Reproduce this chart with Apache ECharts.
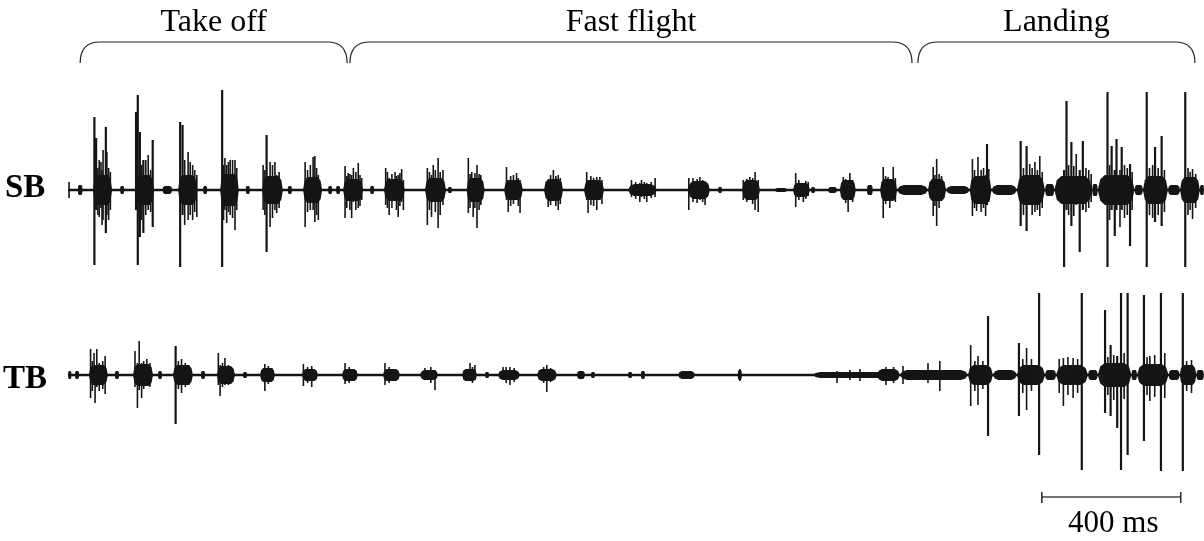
<!DOCTYPE html>
<html><head><meta charset="utf-8">
<script src="https://cdn.jsdelivr.net/npm/echarts@6/dist/echarts.min.js"></script>
<style>html,body{margin:0;padding:0;background:#fff}#c{width:1204px;height:541px}</style>
</head><body><div id="c"></div>
<script>
// time axis in ms
const timeMax = 3272;
const traceSpan = [0, 3268];

// phases
const phaseNames = ['Take off', 'Fast flight', 'Landing'];
const phaseStart = [35, 812, 2448];
const phaseEnd = [804, 2431, 3246];

// channel names
const channelNames = ['SB', 'TB'];

// scale bar (ms)
const scaleBar = [2805, 3205];
const scaleLabel = '400 ms';

// SB spikes: [time ms, peak up, peak down] (arbitrary units)
const sbSpikes = [
 [3,8,-8],
 [76,73,-75],[81,52,-20],[86,22,-25],[90,30,-27],[95,28,-18],[98,20,-35],[101,40,-30],[109,63,-43],[112,38,-25],[117,22,-30],[122,18,-20],
 [196,78,-20],[201,95,-75],[207,58,-47],[212,25,-30],[217,30,-43],[224,30,-25],[231,35,-20],[238,20,-22],[244,50,-37],
 [323,68,-77],[330,65,-25],[336,30,-35],[346,38,-30],[352,28,-25],[359,25,-30],[365,20,-22],[371,15,-27],
 [444,100,-77],[448,25,-30],[452,32,-20],[457,25,-33],[462,28,-22],[467,30,-25],[474,30,-28],[481,30,-40],[486,22,-20],
 [562,25,-20],[567,20,-25],[572,55,-62],[582,28,-37],[589,25,-28],[596,28,-20],[601,15,-23],[608,18,-18],
 [683,28,-37],[690,20,-22],[698,25,-20],[706,33,-20],[711,34,-32],[716,22,-25],[721,15,-30],
 [798,24,-28],[803,14,-18],[807,17,-10],[812,16,-20],[817,15,-28],[822,22,-12],[829,18,-20],[836,27,-18],[841,15,-16],[846,12,-10],
 [915,22,-15],[920,18,-18],[925,12,-25],[933,16,-18],[942,18,-10],[946,14,-20],[951,15,-27],[956,17,-16],[961,21,-12],[966,10,-20],
 [1035,22,-35],[1041,18,-20],[1047,15,-27],[1052,25,-12],[1058,20,-22],[1066,32,-38],[1072,18,-25],[1080,20,-15],
 [1153,32,-23],[1158,16,-18],[1163,18,-12],[1167,12,-27],[1172,17,-18],[1178,25,-38],[1184,16,-20],[1189,15,-15],
 [1263,23,-10],[1268,10,-22],[1275,14,-16],[1283,15,-14],[1292,17,-10],[1297,12,-16],[1302,10,-23],
 [1383,10,-17],[1390,15,-15],[1398,20,-10],[1405,14,-16],[1412,15,-20],[1418,12,-14],
 [1494,18,-10],[1498,10,-23],[1506,14,-15],[1514,12,-16],[1523,13,-20],[1532,13,-10],[1538,10,-14],
 [1623,10,-7],[1635,8,-9],[1647,7,-12],[1652,10,-7],[1660,8,-9],[1667,7,-12],[1680,8,-8],[1691,12,-7],
 [1788,12,-20],[1800,12,-12],[1812,11,-13],[1820,13,-10],[1828,10,-12],[1835,8,-15],
 [1945,10,-10],[1955,11,-12],[1964,13,-8],[1972,12,-14],[1979,18,-20],[1988,10,-22],
 [2096,17,-17],[2105,10,-10],[2118,6,-12],[2125,9,-9],[2132,8,-6],
 [2233,13,-8],[2240,11,-13],[2247,8,-22],[2252,17,-10],[2260,10,-12],
 [2348,23,-28],[2355,14,-14],[2362,13,-10],[2367,10,-18],[2377,23,-10],[2383,12,-12],
 [2492,23,-26],[2497,15,-16],[2502,31,-36],[2509,16,-18],[2516,14,-10],
 [2605,31,-26],[2611,20,-18],[2617,12,-21],[2621,33,-12],[2630,20,-22],[2637,22,-18],[2643,15,-26],[2647,46,-15],[2652,21,-12],
 [2744,49,-36],[2752,22,-25],[2761,44,-41],[2770,26,-15],[2777,22,-25],[2785,28,-22],[2792,20,-20],[2799,34,-26],[2806,18,-18],
 [2869,20,-77],[2876,89,-20],[2882,25,-25],[2890,48,-36],[2897,24,-26],[2904,36,-15],[2914,20,-62],[2923,49,-20],[2932,22,-22],[2940,20,-18],[2947,16,-12],
 [2994,98,-77],[3000,25,-30],[3006,44,-20],[3015,20,-46],[3020,51,-20],[3030,20,-37],[3035,43,-20],[3043,25,-28],[3051,22,-25],[3059,26,-56],[3065,18,-20],
 [3107,98,-77],[3115,22,-25],[3124,25,-28],[3131,43,-32],[3140,22,-25],[3150,54,-36],[3158,20,-22],
 [3218,98,-77],[3226,22,-25],[3232,18,-20],[3239,21,-29],[3248,16,-18]
];
// SB burst envelopes: [start ms, end ms, amplitude]
const sbCores = [
 [72,127,15],[193,248,15],[317,372,15],[438,492,16],[559,619,14],[677,732,13],
 [792,850,11],[910,970,11],[1028,1089,12],[1148,1200,12],[1256,1310,10],[1371,1426,11],[1486,1544,10],[1613,1696,6],
 [1786,1849,9],[1942,1993,10],[2088,2137,7],[2223,2269,10],[2339,2388,11],
 [2477,2529,11],[2597,2660,14],[2733,2814,15],[2841,2950,14],[2966,3072,15],[3096,3168,14],[3203,3260,13],
 [28,42,5],[150,162,4],[272,300,4],[389,401,4],[512,524,4],[633,645,4],[749,761,4],[772,784,4],
 [870,882,4],[1094,1106,3],[1872,1884,3],[2036,2071,2],[2140,2152,3],[2189,2215,3],[2301,2318,5],
 [2388,2477,5],[2529,2597,4],[2660,2733,5],[2814,2841,6],[2950,2966,6],[3072,3096,5],[3168,3203,5],[3260,3272,5]
];

// TB spikes
const tbSpikes = [
 [65,26,-23],[70,14,-16],[75,22,-10],[78,10,-28],[83,26,-12],[90,12,-16],[100,14,-14],[107,19,-19],
 [193,24,-12],[200,12,-33],[205,34,-15],[212,12,-23],[218,14,-14],[227,16,-10],[236,12,-12],
 [310,29,-49],[318,14,-14],[327,16,-18],[338,12,-12],[348,10,-10],
 [433,22,-10],[438,10,-21],[445,12,-12],[452,17,-10],[462,10,-10],
 [567,11,-16],[577,9,-9],[587,7,-6],
 [678,11,-11],[690,8,-8],[702,9,-12],
 [798,12,-9],[810,8,-8],
 [913,12,-10],[925,8,-8],
 [1028,7,-5],[1045,8,-8],[1057,5,-15],
 [1158,12,-6],[1165,8,-8],[1172,10,-5],
 [1253,8,-5],[1262,8,-8],[1273,8,-10],[1285,7,-7],
 [1359,5,-5],[1370,8,-8],[1379,10,-17],[1390,7,-7],
 [1935,6,-6],
 [2215,4,-8],[2252,5,-5],[2281,6,-6],[2356,8,-10],[2378,8,-8],
 [2405,9,-9],[2477,12,-8],[2511,14,-16],
 [2600,30,-31],[2612,14,-16],[2621,19,-30],[2635,14,-14],[2650,59,-61],
 [2739,32,-41],[2750,16,-18],[2761,27,-35],[2775,16,-16],[2797,82,-80],
 [2855,16,-18],[2867,17,-31],[2880,18,-20],[2895,17,-23],[2908,16,-18],[2920,82,-95],
 [2987,65,-38],[2995,18,-20],[3003,30,-41],[3012,20,-25],[3022,19,-53],[3033,82,-95],[3042,22,-24],[3052,82,-80],
 [3099,80,-66],[3108,18,-20],[3116,19,-26],[3130,20,-22],[3148,82,-96],[3159,22,-23],
 [3211,82,-96],[3222,14,-16],[3236,15,-18]
];
// TB burst envelopes
const tbCores = [
 [60,115,10],[187,245,11],[302,360,10],[429,481,9],[553,596,7],[674,720,6],[789,835,6],[907,956,6],[1014,1066,5],[1135,1178,6],[1238,1302,5],[1351,1408,6],
 [0,10,4],[20,32,4],[135,147,4],[259,271,4],[383,395,4],[504,516,3],[1201,1213,3],[1466,1489,4],[1506,1518,3],[1613,1625,3],[1650,1662,4],[1757,1806,4],[1929,1941,5],
 [2146,2396,3],[2330,2396,6],[2396,2592,5],[2592,2664,10],[2664,2733,5],[2733,2814,10],[2814,2846,5],[2846,2938,10],[2938,2966,5],[2966,3063,12],[3063,3079,5],[3079,3170,11],[3170,3202,5],[3202,3250,10],[3250,3272,5]
];

const INK = '#151515';
const FONT = '"Liberation Serif", "Times New Roman", serif';

function spikeItem(params, api) {
  const t = api.value(0);
  const p1 = api.coord([t, api.value(1)]);
  const p2 = api.coord([t, api.value(2)]);
  const big = Math.abs(api.value(1)) > 40 || Math.abs(api.value(2)) > 40;
  return { type: 'line', shape: { x1: p1[0], y1: p1[1], x2: p2[0], y2: p2[1] },
    style: { stroke: INK, lineWidth: big ? 2.2 : 1.6 } };
}
function coreItem(params, api) {
  const a = api.value(2);
  const l = api.coord([api.value(0), 0]);
  const r = api.coord([api.value(1), 0]);
  const top = api.coord([api.value(0), a])[1];
  const bot = api.coord([api.value(0), -a])[1];
  const yc = l[1];
  const w = r[0] - l[0];
  const tp = Math.min(w * 0.22, 7);
  const h = (bot - top) / 2;
  return { type: 'polygon', shape: { smooth: 0, points: [
    [l[0], yc], [l[0] + tp * 0.35, yc - h * 0.7], [l[0] + tp, top], [r[0] - tp, top], [r[0] - tp * 0.35, yc - h * 0.7],
    [r[0], yc], [r[0] - tp * 0.35, yc + h * 0.7], [r[0] - tp, bot], [l[0] + tp, bot], [l[0] + tp * 0.35, yc + h * 0.7]] },
    style: { fill: INK } };
}
function bracketItem(params, api) {
  const x0 = api.coord([api.value(0), 0])[0];
  const x1 = api.coord([api.value(1), 0])[0];
  const yT = 42, yB = 63, r = 20;
  const path = `M${x0} ${yB} C${x0} ${yT + 8} ${x0 + 6} ${yT} ${x0 + r} ${yT} L${x1 - r} ${yT} C${x1 - 6} ${yT} ${x1} ${yT + 8} ${x1} ${yB}`;
  return { type: 'group', children: [
    { type: 'path', shape: { pathData: path }, style: { stroke: '#222', lineWidth: 1.2, fill: 'none' } },
    { type: 'text', style: { text: phaseNames[params.dataIndex], x: (x0 + x1) / 2, y: 23,
      align: 'center', verticalAlign: 'middle', font: '32px ' + FONT, fill: '#000' } }
  ] };
}
function scaleItem(params, api) {
  const x0 = api.coord([api.value(0), 0])[0];
  const x1 = api.coord([api.value(1), 0])[0];
  const y = 497;
  return { type: 'group', children: [
    { type: 'line', shape: { x1: x0, y1: y, x2: x1, y2: y }, style: { stroke: '#444', lineWidth: 1.5 } },
    { type: 'line', shape: { x1: x0, y1: y - 5, x2: x0, y2: y + 6 }, style: { stroke: '#222', lineWidth: 1.5 } },
    { type: 'line', shape: { x1: x1, y1: y - 5, x2: x1, y2: y + 6 }, style: { stroke: '#222', lineWidth: 1.5 } },
    { type: 'text', style: { text: scaleLabel, x: (x0 + x1) / 2 + 2, y: 524, align: 'center', verticalAlign: 'middle',
      font: '31px ' + FONT, fill: '#000' } }
  ] };
}

const xa = i => ({ type: 'value', gridIndex: i, min: 0, max: timeMax, show: false });
const chart = echarts.init(document.getElementById('c'), null, { renderer: 'canvas' });
chart.setOption({
  animation: false,
  backgroundColor: '#fff',
  grid: [
    { left: 68, width: 1136, top: 0, height: 70 },
    { left: 68, width: 1136, top: 90, height: 200 },
    { left: 68, width: 1136, top: 275, height: 200 },
    { left: 68, width: 1136, top: 480, height: 61 }
  ],
  xAxis: [xa(0), xa(1), xa(2), xa(3)],
  yAxis: [
    { type: 'value', gridIndex: 0, min: 0, max: 1, show: false },
    { type: 'value', gridIndex: 1, min: -100, max: 100, show: false },
    { type: 'value', gridIndex: 2, min: -100, max: 100, show: false },
    { type: 'value', gridIndex: 3, min: 0, max: 1, show: false }
  ],
  graphic: [
    { type: 'text', left: 5, top: 172, style: { text: channelNames[0], font: 'bold 33px ' + FONT, fill: '#000' } },
    { type: 'text', left: 3, top: 363, style: { text: channelNames[1], font: 'bold 33px ' + FONT, fill: '#000' } }
  ],
  series: [
    { type: 'custom', xAxisIndex: 0, yAxisIndex: 0, renderItem: bracketItem,
      data: phaseStart.map((s, i) => [s, phaseEnd[i]]) },
    { type: 'line', xAxisIndex: 1, yAxisIndex: 1, symbol: 'none', lineStyle: { color: INK, width: 2.5 },
      data: [[traceSpan[0], 0], [traceSpan[1], 0]] },
    { type: 'custom', xAxisIndex: 1, yAxisIndex: 1, renderItem: coreItem, data: sbCores },
    { type: 'custom', xAxisIndex: 1, yAxisIndex: 1, renderItem: spikeItem, data: sbSpikes },
    { type: 'line', xAxisIndex: 2, yAxisIndex: 2, symbol: 'none', lineStyle: { color: INK, width: 2.5 },
      data: [[traceSpan[0], 0], [traceSpan[1], 0]] },
    { type: 'custom', xAxisIndex: 2, yAxisIndex: 2, renderItem: coreItem, data: tbCores },
    { type: 'custom', xAxisIndex: 2, yAxisIndex: 2, renderItem: spikeItem, data: tbSpikes },
    { type: 'custom', xAxisIndex: 3, yAxisIndex: 3, renderItem: scaleItem, data: [scaleBar] }
  ]
});
</script></body></html>
